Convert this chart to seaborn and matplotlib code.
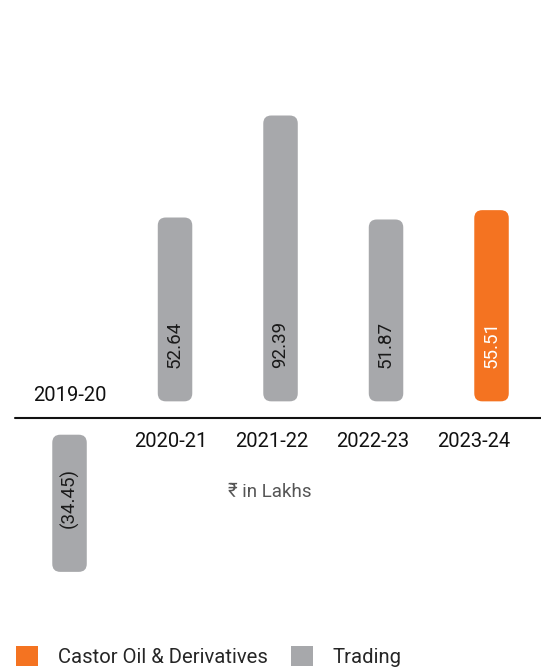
import matplotlib
matplotlib.use("Agg")
import numpy as np
import pandas as pd
import matplotlib.pyplot as plt
import seaborn as sns
from matplotlib.patches import FancyBboxPatch, Patch

# data
years = ["2019-20", "2020-21", "2021-22", "2022-23", "2023-24"]
values = [-34.45, 52.64, 92.39, 51.87, 55.51]
segments = ["Trading", "Trading", "Trading", "Trading", "Castor Oil & Derivatives"]
legend_order = ["Castor Oil & Derivatives", "Trading"]
seg_colors = {"Castor Oil & Derivatives": "#F47321", "Trading": "#A7A8AB"}
unit_label = "₹ in Lakhs"

# -----------------------------------------------------------------------------
sns.set_theme(style="white")
plt.rcParams["font.family"] = ["Roboto", "DejaVu Sans"]

PAD = 6.5    # gap between the zero line and the bars (data units)
STUB = 19.0  # the designer's extra bar length
LBL = 13.0   # value label offset from bar foot

fig = plt.figure(figsize=(5.41, 6.69), dpi=100)
ax = fig.add_axes([0, 0, 1, 1])

df = pd.DataFrame({"year": years, "value": values, "segment": segments})
sns.barplot(data=df, x="year", y="value", hue="segment", palette=seg_colors,
            dodge=False, width=0.327, saturation=1, legend=False, ax=ax)

# swap the flat bars for rounded ones, floating off the zero line
for bar in list(ax.patches):
    h = bar.get_height()
    if not np.isfinite(h) or h == 0:
        continue
    x0, w, fc = bar.get_x(), bar.get_width(), bar.get_facecolor()
    length = STUB + abs(h)
    y0 = PAD if h > 0 else -PAD - length
    bar.remove()
    ax.add_patch(FancyBboxPatch((x0, y0), w, length,
                                boxstyle="round,pad=0,rounding_size=0.076",
                                mutation_aspect=41, fc=fc, ec="none"))

ax.set_xlim(-0.659, 4.469)
ax.set_ylim(-97.8, 162.9)
ax.set_axis_off()
ax.axhline(0, xmin=15 / 541, xmax=1, color="#111111", lw=1.5)

for i, (yr, v, seg) in enumerate(zip(years, values, segments)):
    tc = "white" if seg == "Castor Oil & Derivatives" else "#1a1a1a"
    if v >= 0:
        ax.text(i, PAD + LBL, f"{v:.2f}", rotation=90, rotation_mode="anchor",
                ha="left", va="center", fontsize=13.5, color=tc)
        ax.text(i * 0.957, -9.0, yr, ha="center", va="center",
                fontsize=14.5, color="#111111")
    else:
        ax.text(i, -PAD - LBL, f"({abs(v):.2f})", rotation=90, rotation_mode="anchor",
                ha="right", va="center", fontsize=13.5, color=tc)
        ax.text(i, 8.6, yr, ha="center", va="center",
                fontsize=14.5, color="#111111")

ax.text(1.90, -28.8, unit_label, ha="center", va="center",
        fontsize=13.5, color="#555555")

handles = [Patch(fc=seg_colors[s], ec="none", label=s) for s in legend_order]
fig.legend(handles=handles, loc="lower left", bbox_to_anchor=(14 / 541, 0.0),
           ncol=2, frameon=False, fontsize=14.6, handlelength=1.1, handleheight=1.1,
           handletextpad=0.95, columnspacing=1.15, borderpad=0.1, borderaxespad=0)

fig.savefig("out.png", dpi=100)
